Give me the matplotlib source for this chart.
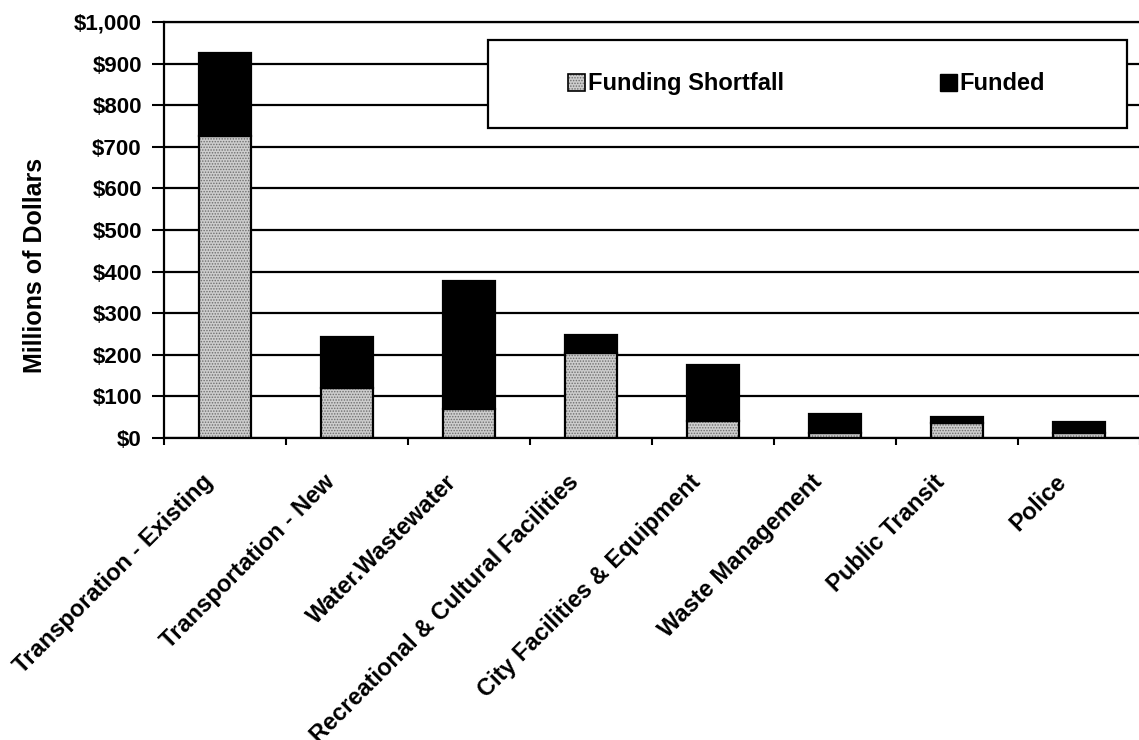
import numpy as np
import matplotlib
matplotlib.use("Agg")
import matplotlib.pyplot as plt
from matplotlib.patches import Rectangle
from matplotlib.ticker import FuncFormatter, FixedLocator
from matplotlib.transforms import ScaledTranslation

plt.rcParams['font.family'] = ['Liberation Sans', 'DejaVu Sans']
plt.rcParams['font.weight'] = 'bold'
plt.rcParams['hatch.linewidth'] = 0.7

categories = ["Transporation - Existing", "Transportation - New", "Water.Wastewater",
              "Recreational & Cultural Facilities", "City Facilities & Equipment",
              "Waste Management", "Public Transit", "Police"]
shortfall = [725, 120, 70, 205, 42, 12, 35, 12]
funded = [200, 123, 308, 43, 133, 45, 16, 27]

fig = plt.figure(figsize=(11.39, 7.40), dpi=100)
ax = fig.add_axes([164 / 1139, 1 - 438 / 740, 976 / 1139, 416 / 740])

x = np.arange(len(categories))
w = 0.42
fill_grey = '#cdcdcd'
dot_grey = '#6e6e6e'

# shortfall: stippled grey fill, then a black outline on top
ax.bar(x, shortfall, w, color=fill_grey, edgecolor=dot_grey, hatch='......',
       linewidth=0, zorder=3)
ax.bar(x, shortfall, w, fill=False, edgecolor='black', linewidth=1.6, zorder=4)
ax.bar(x, funded, w, bottom=shortfall, color='black', edgecolor='black',
       linewidth=1.6, zorder=4)

ax.set_xlim(-0.5, len(categories) - 0.5)
ax.set_ylim(0, 1000)
ax.set_yticks(np.arange(0, 1001, 100))
ax.yaxis.set_major_formatter(FuncFormatter(lambda v, p: "${:,.0f}".format(v)))
ax.yaxis.grid(True, color='black', linewidth=1.6)
ax.set_axisbelow(True)

ax.set_xticks(x)
ax.set_xticklabels(categories, rotation=45, ha='right', va='center',
                   rotation_mode='anchor', fontsize=17)
ax.xaxis.set_minor_locator(FixedLocator(np.arange(-0.5, len(categories), 1)))
ax.tick_params(axis='x', which='major', length=0, pad=29)
ax.tick_params(axis='x', which='minor', length=5, width=1.5, direction='out')
ax.tick_params(axis='y', length=9, width=1.5, pad=7, labelsize=16)
for lbl in ax.get_xticklabels():
    lbl.set_transform(lbl.get_transform() + ScaledTranslation(-16 / 100, 0, fig.dpi_scale_trans))

for s in ['left', 'bottom', 'top']:
    ax.spines[s].set_linewidth(1.6)
ax.spines['right'].set_visible(False)

ax.set_ylabel("Millions of Dollars", fontsize=18, fontweight='bold')
ax.yaxis.set_label_coords(-0.12, 0.416)

# legend box
x0, x1 = (488 - 164) / 976, (1127 - 164) / 976
y0, y1 = 0.745, 0.957
ax.add_patch(Rectangle((x0, y0), x1 - x0, y1 - y0, transform=ax.transAxes,
                       facecolor='white', edgecolor='black', linewidth=1.6, zorder=5))
h1 = (Rectangle((0, 0), 1, 1, facecolor=fill_grey, edgecolor=dot_grey, hatch='......', linewidth=0),
      Rectangle((0, 0), 1, 1, fill=False, edgecolor='black', linewidth=1.2))
h2 = Rectangle((0, 0), 1, 1, facecolor='black', edgecolor='black')
leg = ax.legend([h1, h2], ["Funding Shortfall", "Funded"], ncol=2, frameon=False,
                loc='center', bbox_to_anchor=((x0 + x1) / 2 - 0.001, (y0 + y1) / 2),
                fontsize=17, handlelength=0.75, handleheight=0.75, handletextpad=0.1,
                columnspacing=6.6)
leg.set_zorder(6)

fig.savefig("out.png", dpi=100)
